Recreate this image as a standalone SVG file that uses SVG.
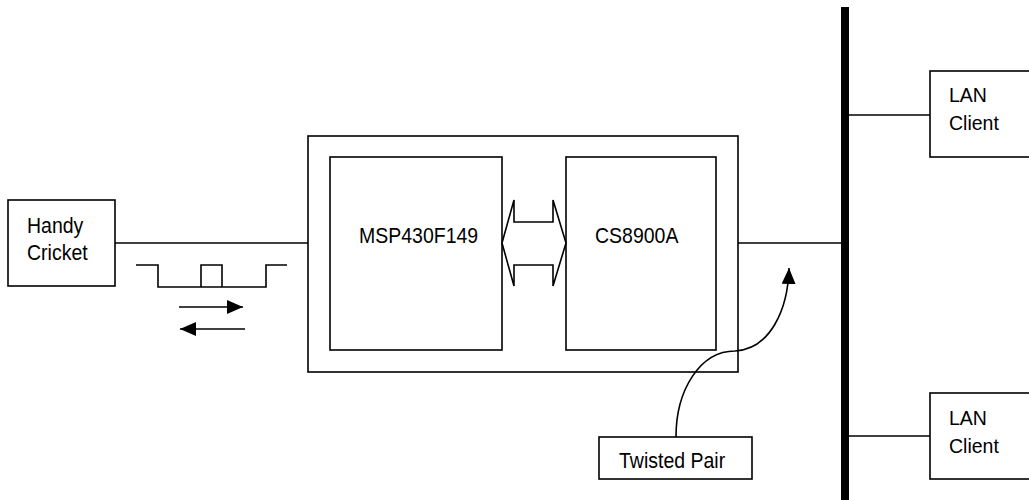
<svg xmlns="http://www.w3.org/2000/svg" width="1029" height="500" viewBox="0 0 1029 500">
<style>
.box{fill:#fff;stroke:#000;stroke-width:1.6}
.ln{fill:none;stroke:#000;stroke-width:1.6}
.t{font-family:"Liberation Sans",Arial,sans-serif;font-size:19.5px;fill:#000}
</style>
<defs>
<marker id="ah2" viewBox="0 0 16 14" refX="16" refY="7" markerWidth="16" markerHeight="14" markerUnits="userSpaceOnUse" orient="auto">
<path d="M0,0 L16,7 L0,14 Z" fill="#000"/>
</marker>
</defs>
<rect width="1029" height="500" fill="#fff"/>
<g id="handy-cricket">
<rect class="box" x="8" y="200" width="107" height="86"/>
<text class="t" transform="translate(27,233) scale(1,1.15)">Handy</text>
<text class="t" transform="translate(27,260) scale(1,1.15)">Cricket</text>
</g>
<g id="board">
<rect class="box" x="308" y="136" width="430" height="236"/>
</g>
<g id="msp430">
<rect class="box" x="330" y="157" width="172" height="193"/>
<text class="t" transform="translate(359,243) scale(1,1.15)">MSP430F149</text>
</g>
<g id="cs8900a">
<rect class="box" x="566" y="157" width="150" height="193"/>
<text class="t" transform="translate(595,243) scale(1,1.15)">CS8900A</text>
</g>
<g id="bus-arrow">
<polygon class="box" points="502,243 514,200 514,222 553,222 553,200 566,243 553,286 553,265 514,265 514,286"/>
</g>
<g id="twisted-pair">
<rect class="box" x="599" y="437" width="153" height="42"/>
<text class="t" transform="translate(619,468) scale(1,1.15)">Twisted Pair</text>
</g>
<g id="lan-client-1">
<rect class="box" x="930" y="71" width="110" height="86"/>
<text class="t" x="949" y="102">LAN</text>
<text class="t" x="949" y="130">Client</text>
</g>
<g id="lan-client-2">
<rect class="box" x="930" y="393" width="110" height="86"/>
<text class="t" x="949" y="425">LAN</text>
<text class="t" x="949" y="453">Client</text>
</g>
<g id="connectors">
<line class="ln" x1="115" y1="243" x2="308" y2="243"/>
<line class="ln" x1="738" y1="243" x2="845" y2="243"/>
<line class="ln" x1="845" y1="115" x2="930" y2="115"/>
<line class="ln" x1="845" y1="436" x2="930" y2="436"/>
<polyline class="ln" points="136,265 158,265 158,287 266,287 266,265 287,265"/>
<polyline class="ln" points="201,287 201,265 222,265 222,287"/>
<line class="ln" x1="179" y1="307" x2="243" y2="307" marker-end="url(#ah2)"/>
<line class="ln" x1="245" y1="329" x2="180" y2="329" marker-end="url(#ah2)"/>
<path class="ln" d="M676,437 C676,390 700,351 735,351 C770,349 788,310 789,268" marker-end="url(#ah2)"/>
</g>
<g id="bus"><rect x="841" y="7" width="8" height="493" fill="#000"/></g>
</svg>
